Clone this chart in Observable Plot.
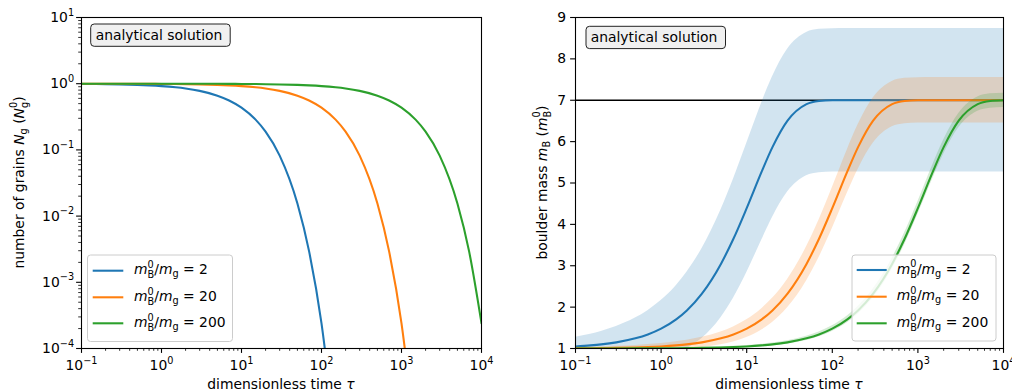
<!DOCTYPE html>
<html><head><meta charset="utf-8">
<script src="https://cdn.jsdelivr.net/npm/d3@7"></script>
<script src="https://cdn.jsdelivr.net/npm/@observablehq/plot@0.6"></script>
<style>
body{margin:0;background:#fff;}
#wrap{position:relative;width:1012px;height:392px;overflow:hidden;background:#fff;}
#wrap svg{position:absolute;top:0;}
</style></head><body><div id="wrap"></div>
<script>
// ---------------- data ----------------
const tau = [0.1,0.15,0.2,0.3,0.5,0.7, 1,1.5,2,3,5,7, 10,15,20,30,50,70, 100,150,200,300,500,700, 1000,1500,2000,3000,5000,7000, 10000];
const ratios = [2, 20, 200];
const seriesLabels = ["2", "20", "200"];
const seriesColors = ["#1f77b4", "#ff7f0e", "#2ca02c"];

// number of grains N_g / N_g^0
const grains2 = [0.99170,0.98758,0.98347,0.97531,0.95919,0.94333, 0.92004,0.88250,0.84648,0.77880,0.65924,0.55804, 0.43460,0.28650,0.18888,0.082085,0.015504,0.0029283, 0.00024037,3.7e-6,null,null,null,null, null,null,null,null,null,null,null];
const grains20 = [0.99917,0.99875,0.99833,0.99750,0.99584,0.99418, 0.99170,0.98758,0.98347,0.97531,0.95919,0.94333, 0.92004,0.88250,0.84648,0.77880,0.65924,0.55804, 0.43460,0.28650,0.18888,0.082085,0.015504,0.0029283, 0.00024037,3.7e-6,null,null,null,null,null];
const grains200 = [0.99992,0.99988,0.99983,0.99975,0.99958,0.99942, 0.99917,0.99875,0.99833,0.99750,0.99584,0.99418, 0.99170,0.98758,0.98347,0.97531,0.95919,0.94333, 0.92004,0.88250,0.84648,0.77880,0.65924,0.55804, 0.43460,0.28650,0.18888,0.082085,0.015504,0.0029283, 0.00024037];

// boulder mass m_B / m_B^0
const mass2 = [1.050,1.075,1.099,1.148,1.245,1.340, 1.480,1.705,1.921,2.327,3.045,3.652, 4.392,5.281,5.867,6.508,6.907,6.982, 6.999,7,7,7,7,7, 7,7,7,7,7,7,7];
const mass20 = [1.005,1.0075,1.010,1.015,1.025,1.035, 1.050,1.075,1.099,1.148,1.245,1.340, 1.480,1.705,1.921,2.327,3.045,3.652, 4.392,5.281,5.867,6.508,6.907,6.982, 6.999,7,7,7,7,7,7];
const mass200 = [1.0005,1.0007,1.001,1.0015,1.0025,1.0035, 1.005,1.0075,1.010,1.015,1.025,1.035, 1.050,1.075,1.099,1.148,1.245,1.340, 1.480,1.705,1.921,2.327,3.045,3.652, 4.392,5.281,5.867,6.508,6.907,6.982, 6.999];

// half-width of the shaded band around m_B
const spread2 = [0.2227,0.2722,0.3136,0.3825,0.4898,0.5748, 0.6787,0.8146,0.9222,1.0865,1.3024,1.4373, 1.5599,1.6595,1.7009,1.7262,1.7318,1.7321, 1.7321,1.7321,1.7321,1.7321,1.7321,1.7321, 1.7321,1.7321,1.7321,1.7321,1.7321,1.7321,1.7321];
const spread20 = [0.0223,0.0274,0.0316,0.0387,0.0499,0.0590, 0.0704,0.0861,0.0992,0.1210,0.1549,0.1818, 0.2146,0.2576,0.2916,0.3436,0.4119,0.4545, 0.4933,0.5248,0.5379,0.5459,0.5476,0.5477, 0.5477,0.5477,0.5477,0.5477,0.5477,0.5477,0.5477];
const spread200 = [0.0022,0.0027,0.0032,0.0039,0.0050,0.0059, 0.0071,0.0087,0.0100,0.0122,0.0158,0.0187, 0.0223,0.0272,0.0314,0.0383,0.0490,0.0575, 0.0679,0.0815,0.0922,0.1087,0.1302,0.1437, 0.1560,0.1660,0.1701,0.1726,0.1732,0.1732, 0.1732];

const finalMass = 7;
const xTicks = [0.1, 1, 10, 100, 1000, 10000];
const yTicksLeft = [1e-4, 1e-3, 1e-2, 1e-1, 1, 10];
const yTicksRight = [1, 2, 3, 4, 5, 6, 7, 8, 9];
const boxText = "analytical solution";

// ---------------- helpers ----------------
const FS = 13.9;
const FONT = "DejaVu Sans";
const grainsAll = [grains2, grains20, grains200];
const massAll = [mass2, mass20, mass200];
const spreadAll = [spread2, spread20, spread200];

function minorLog(lo, hi) { // minor tick positions 2..9 per decade
  const out = [];
  for (let e = lo; e < hi; e++) for (let k = 2; k <= 9; k++) out.push(k * Math.pow(10, e));
  return out;
}
const powFmt = d => "10^" + Math.round(Math.log10(d));

const grainRows = grainsAll.map(arr => tau.map((t, i) => ({tau: t, N: arr[i]})));
const massRows = massAll.map((arr, k) => tau.map((t, i) => ({tau: t, m: arr[i], lo: arr[i] - spreadAll[k][i], hi: arr[i] + spreadAll[k][i]})));

const common = {
  height: 392, marginTop: 17, marginBottom: 44,
  style: {fontFamily: FONT, fontSize: FS + "px", color: "black", background: "transparent", overflow: "visible"}
};

// ---------------- left panel ----------------
const left = Plot.plot({
  ...common, width: 500, marginLeft: 81, marginRight: 19,
  x: {type: "log", domain: [0.1, 1e4]},
  y: {type: "log", domain: [1e-4, 10]},
  marks: [
    ...grainRows.map((rows, k) => Plot.lineY(rows, {x: "tau", y: "N", stroke: seriesColors[k], strokeWidth: 2.08, curve: "monotone-x", clip: true})),
    Plot.frame({stroke: "black", strokeWidth: 1.1}),
    Plot.axisX({ticks: xTicks, tickSize: 4.9, tickPadding: 7, tickFormat: powFmt, label: null, strokeWidth: 1.1}),
    Plot.axisX({ticks: minorLog(-1, 4), tickSize: 2.8, tickFormat: () => "", label: null, strokeWidth: 0.8}),
    Plot.axisY({ticks: yTicksLeft, tickSize: 4.9, tickPadding: 2.5, tickFormat: powFmt, label: null, strokeWidth: 1.1}),
    Plot.axisY({ticks: minorLog(-4, 1), tickSize: 2.8, tickFormat: () => "", label: null, strokeWidth: 0.8})
  ]
});

// ---------------- right panel ----------------
const rightMarks = [Plot.ruleY([finalMass], {stroke: "black", strokeWidth: 1.6})];
massRows.forEach((rows, k) => {
  rightMarks.push(Plot.areaY(rows, {x: "tau", y1: "lo", y2: "hi", fill: seriesColors[k], fillOpacity: 0.2, curve: "monotone-x", clip: true}));
  rightMarks.push(Plot.lineY(rows, {x: "tau", y: "m", stroke: seriesColors[k], strokeWidth: 2.08, curve: "monotone-x", clip: true}));
});
const right = Plot.plot({
  ...common, width: 512, marginLeft: 75, marginRight: 9,
  x: {type: "log", domain: [0.1, 1e4]},
  y: {domain: [1, 9]},
  marks: [
    ...rightMarks,
    Plot.frame({stroke: "black", strokeWidth: 1.1}),
    Plot.axisX({ticks: xTicks, tickSize: 4.9, tickPadding: 7, tickFormat: powFmt, label: null, strokeWidth: 1.1}),
    Plot.axisX({ticks: minorLog(-1, 4), tickSize: 2.8, tickFormat: () => "", label: null, strokeWidth: 0.8}),
    Plot.axisY({ticks: yTicksRight, tickSize: 4.9, tickPadding: 4.5, tickFormat: d => String(d), label: null, strokeWidth: 1.1})
  ]
});

const wrap = document.getElementById("wrap");
left.style.left = "0px";
right.style.left = "500px";
wrap.appendChild(left);
wrap.appendChild(right);

// superscript tick labels 10^n
function fixTicks(svgEl) {
  d3.select(svgEl).selectAll("text").each(function () {
    const m = /^10\^(-?\d+)$/.exec(this.textContent);
    if (!m) return;
    const sel = d3.select(this);
    sel.text(null).style("white-space", "pre");
    sel.append("tspan").text("10");
    sel.append("tspan").attr("font-size", FS * 0.7).attr("dy", -6.3).text(m[1].replace("-", "\u2212"));
  });
}
fixTicks(left); fixTicks(right);

// mathtext-like label
function mtext(svgSel, pieces, {x, y, anchor = "start", rotate = 0, size = FS}) {
  const g = svgSel.append("g").attr("text-anchor", "start");
  const inner = g.append("g");
  let cx = 0;
  const small = size * 0.7;
  const mk = (t, px, py, fs, it) => {
    const el = inner.append("text").attr("x", px).attr("y", py).attr("text-anchor", "start")
      .attr("font-size", fs).attr("font-family", FONT).attr("fill", "black")
      .style("white-space", "pre").text(t);
    if (it) el.attr("font-style", "italic");
    return el.node().getComputedTextLength();
  };
  for (const p of pieces) {
    if (p.t !== undefined) cx += mk(p.t, cx, 0, size, p.it);
    else {
      let w = 0;
      if (p.sup) w = Math.max(w, mk(p.sup, cx, -6.3, small));
      if (p.sub) w = Math.max(w, mk(p.sub, cx, p.sup ? 4.2 : 3.0, small));
      cx += w;
    }
  }
  const off = anchor === "middle" ? -cx / 2 : anchor === "end" ? -cx : 0;
  inner.attr("transform", `translate(${off},0)`);
  g.attr("transform", `translate(${x},${y}) rotate(${rotate})`);
}

const L = d3.select(left), R = d3.select(right);
const xLabel = [{t: "dimensionless time "}, {t: "\u03c4", it: true}];
mtext(L, xLabel, {x: 281, y: 389, anchor: "middle"});
mtext(R, xLabel, {x: 289, y: 389, anchor: "middle"});
mtext(L, [{t: "number of grains "}, {t: "N", it: true}, {sub: "g"}, {t: " ("}, {t: "N", it: true}, {sup: "0", sub: "g"}, {t: ")"}],
  {x: 23.5, y: 182.5, anchor: "middle", rotate: -90});
mtext(R, [{t: "boulder mass "}, {t: "m", it: true}, {sub: "B"}, {t: " ("}, {t: "m", it: true}, {sup: "0", sub: "B"}, {t: ")"}],
  {x: 46.5, y: 182.5, anchor: "middle", rotate: -90});

// annotation boxes
function annot(sel, bx, by, tx, ty) {
  sel.append("rect").attr("x", bx).attr("y", by).attr("width", 139.5).attr("height", 22.3)
    .attr("rx", 3.5).attr("fill", "#f0f0f0").attr("stroke", "#222").attr("stroke-width", 1);
  sel.append("text").attr("x", tx).attr("y", ty).attr("text-anchor", "start").attr("font-family", FONT).attr("font-size", FS)
    .attr("fill", "black").text(boxText);
}
annot(L, 90.7, 24, 95.7, 39.5);
annot(R, 86, 26.3, 90.7, 41.6);

// legends
function legend(sel, bx, by, w, h, lx0, lx1, tx, rows) {
  sel.append("rect").attr("x", bx).attr("y", by).attr("width", w).attr("height", h).attr("rx", 3)
    .attr("fill", "white").attr("fill-opacity", 0.8).attr("stroke", "#cccccc").attr("stroke-width", 1);
  ratios.forEach((r, k) => {
    sel.append("line").attr("x1", lx0).attr("x2", lx1).attr("y1", rows[k]).attr("y2", rows[k])
      .attr("stroke", seriesColors[k]).attr("stroke-width", 2.08);
    mtext(sel, [{t: "m", it: true}, {sup: "0", sub: "B"}, {t: "/"}, {t: "m", it: true}, {sub: "g"}, {t: " = " + seriesLabels[k]}],
      {x: tx, y: rows[k] + 3.5});
  });
}
legend(L, 87.5, 255, 145, 86.5, 92.7, 123.3, 134, [270.7, 297.3, 323.3]);
legend(R, 352, 255, 144, 86, 356.7, 386.7, 396.7, [270, 296.7, 323.3]);
</script></body></html>
